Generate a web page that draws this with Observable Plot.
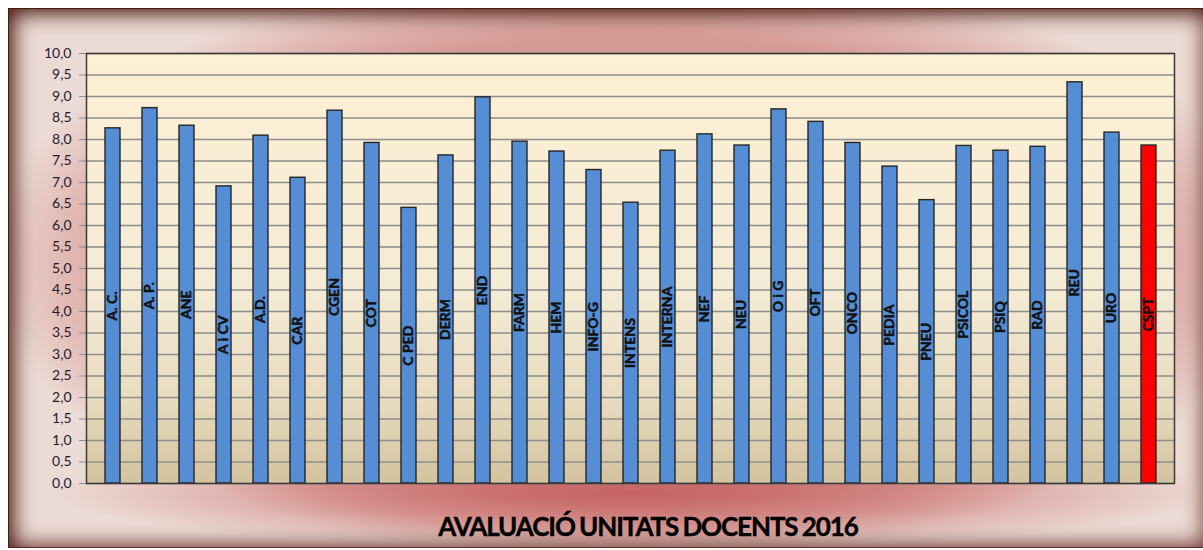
<!DOCTYPE html>
<html>
<head>
<meta charset="utf-8">
<script src="https://cdn.jsdelivr.net/npm/d3@7"></script>
<script src="https://cdn.jsdelivr.net/npm/@observablehq/plot@0.6"></script>
<style>
  body { margin: 0; background: #fff; }
  #wrap { position: relative; width: 1203px; height: 550px; overflow: hidden; background: #fff; }
  #frame {
    position: absolute; left: 8px; top: 8px; width: 1203px; height: 540px;
    background:
      radial-gradient(ellipse 48% 10% at 52% 90%, rgba(196,92,92,0.9) 0%, rgba(196,92,92,0.45) 55%, rgba(196,92,92,0) 100%),
      radial-gradient(ellipse 56% 58% at 52% 47%, #d49490 0%, #d69a96 72%, #e2bab4 85%, #ecdad4 96%);
    box-shadow: inset 12px 12px 20px -6px #4a1c12, inset -14px -10px 20px -6px #6e3e34, inset 0 0 0 1px #3a1a10;
  }
  #chart { position: absolute; left: 0; top: 0; }
  #title {
    position: absolute; left: 648px; top: 513px; transform: translateX(-50%);
    white-space: nowrap; font-family: Lato, "Open Sans", sans-serif; font-weight: bold;
    font-size: 26px; line-height: 26px; letter-spacing: -1.1px; word-spacing: -1px; color: #000;
    -webkit-text-stroke: 0.4px #000;
  }
</style>
</head>
<body>
<div id="wrap">
  <div id="frame"></div>
  <div id="chart"></div>
  <div id="title">AVALUACIÓ UNITATS DOCENTS 2016</div>
</div>
<script>
const units = ["A. C.","A. P.","ANE","A i CV","A.D.","CAR","CGEN","COT","C PED","DERM","END","FARM","HEM","INFO-G","INTENS","INTERNA","NEF","NEU","O i G","OFT","ONCO","PEDIA","PNEU","PSICOL","PSIQ","RAD","REU","URO","CSPT"];
const scores = [8.26, 8.73, 8.32, 6.91, 8.09, 7.11, 8.67, 7.92, 6.41, 7.63, 8.98, 7.95, 7.72, 7.29, 6.53, 7.74, 8.12, 7.86, 8.70, 8.41, 7.92, 7.37, 6.59, 7.85, 7.74, 7.83, 9.33, 8.16, 7.86];
const yTicks = d3.range(0, 10.001, 0.5);
const highlighted = "CSPT";

const data = units.map((u, i) => ({unit: u, value: scores[i]}));

const defs = () => {
  const d = d3.create("svg:defs");
  const g = d.append("linearGradient").attr("id", "plotbg").attr("x1", 0).attr("y1", 0).attr("x2", 0).attr("y2", 1);
  g.append("stop").attr("offset", "0%").attr("stop-color", "#fdf0d4");
  g.append("stop").attr("offset", "55%").attr("stop-color", "#f4ebd6");
  g.append("stop").attr("offset", "80%").attr("stop-color", "#e8dcc0");
  g.append("stop").attr("offset", "100%").attr("stop-color", "#d3c39f");
  return d.node();
};

const chart = Plot.plot({
  width: 1203,
  height: 550,
  marginLeft: 86,
  marginRight: 29,
  marginTop: 53,
  marginBottom: 67,
  style: { background: "transparent", fontFamily: "Lato, 'Open Sans', sans-serif" },
  x: { domain: units, paddingInner: 0.6, paddingOuter: 0.3, axis: null },
  y: { domain: [0, 10] },
  marks: [
    defs,
    Plot.frame({ fill: "url(#plotbg)" }),
    Plot.gridY(yTicks, { stroke: "#8c8c8c", strokeOpacity: 1, strokeWidth: 1.5 }),
    Plot.axisY(yTicks, {
      tickFormat: d => d.toFixed(1).replace(".", ","),
      tickSize: 7, tickPadding: 8, stroke: "#8c8c8c",
      fontSize: 14, fill: "#1e1a30", label: null
    }),
    Plot.barY(data.filter(d => d.unit !== highlighted), { x: "unit", y: "value", fill: "#558ed5", stroke: "#262626", strokeWidth: 1.4 }),
    Plot.barY(data.filter(d => d.unit === highlighted), { x: "unit", y: "value", fill: "#ff0000", stroke: "#262626", strokeWidth: 1.4 }),
    Plot.text(data, { x: "unit", y: d => d.value / 2, text: "unit", rotate: -90, fontWeight: "bold", fontSize: 14, fill: "#111", stroke: "#111", strokeWidth: 0.5 }),
    Plot.frame({ stroke: "#3a3a3a", strokeWidth: 1.5 })
  ]
});
document.getElementById("chart").appendChild(chart);
</script>
</body>
</html>
